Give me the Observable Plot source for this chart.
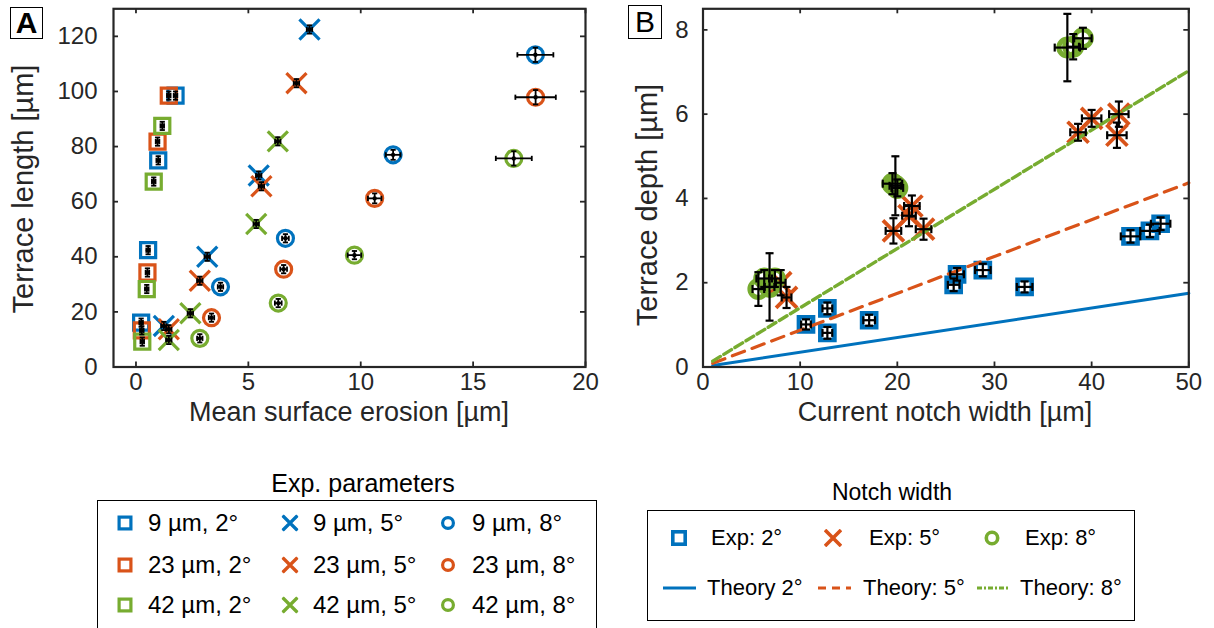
<!DOCTYPE html>
<html><head><meta charset="utf-8">
<script src="https://cdn.jsdelivr.net/npm/d3@7"></script>
<script src="https://cdn.jsdelivr.net/npm/@observablehq/plot@0.6"></script>
<style>
body{margin:0;background:#fff;font-family:"Liberation Sans",Arial,sans-serif;color:#000;}
#wrap{position:relative;width:1214px;height:628px;overflow:hidden;background:#fff;}
.abs{position:absolute;white-space:pre;line-height:1;}
.panel{position:absolute;top:0;}
.box{position:absolute;border:1.5px solid #000;box-sizing:border-box;}
.ctr{transform:translate(-50%,-50%);}
.lbl{transform:translate(0,-50%);}
</style></head><body><div id="wrap"></div>
<script>
// ---------- colours / style ----------
const C_BLUE = "#0072BD", C_ORANGE = "#D95319", C_GREEN = "#77AC30";
const AX = "#262626";
const FONT = '"Liberation Sans", Arial, sans-serif';

// ---------- Panel A data ----------
const aAngle = [2,2,2,2,2,2,2,2,2,2,2,2, 5,5,5,5,5,5,5,5,5,5,5,5, 8,8,8,8,8,8,8,8,8,8,8,8];
const aWidth = [9,9,9,9,23,23,23,23,42,42,42,42, 9,9,9,9,23,23,23,23,42,42,42,42, 9,9,9,9,23,23,23,23,42,42,42,42];
const aX = [1.76,0.99,0.54,0.23, 1.46,0.96,0.51,0.26, 1.17,0.79,0.48,0.28,
            7.72,5.46,3.17,1.24, 7.14,5.58,2.84,1.46, 6.31,5.35,2.42,1.46,
            17.77,11.44,6.65,3.76, 17.78,10.62,6.57,3.36, 16.81,9.72,6.33,2.84];
const aY = [98.5,75.0,42.4,16.1, 98.5,81.8,34.3,13.3, 87.5,67.3,28.3,9.2,
            122.5,69.5,40.0,14.9, 103.0,65.6,31.3,13.7, 81.9,51.9,19.5,9.8,
            113.3,77.0,46.7,29.1, 97.9,61.2,35.5,17.9, 75.7,40.6,23.2,10.4];
const aXerr = [0.08,0.08,0.08,0.08, 0.08,0.08,0.08,0.08, 0.08,0.08,0.08,0.08,
               0.12,0.12,0.12,0.12, 0.12,0.12,0.12,0.12, 0.12,0.12,0.12,0.12,
               0.8,0.33,0.15,0.12, 0.9,0.3,0.15,0.12, 0.8,0.3,0.15,0.12];
const aYerr = [1.5,1.5,1.5,1.5, 1.5,1.5,1.5,1.5, 1.5,1.5,1.5,1.5,
               1.5,1.5,1.5,1.5, 1.5,1.5,1.5,1.5, 1.5,1.5,1.5,1.5,
               2.6,1.8,1.5,1.5, 2.6,1.8,1.5,1.5, 2.6,1.5,1.5,1.5];
const aXTicks = [0,5,10,15,20];
const aYTicks = [0,20,40,60,80,100,120];

// ---------- Panel B data ----------
const bAngle = [2,2,2,2,2,2,2,2,2,2,2, 5,5,5,5,5,5,5,5,5,5, 8,8,8,8,8,8,8,8,8,8];
const bX = [10.6,12.8,12.8,17.1,25.8,26.15,28.8,33.1,44.0,46.0,47.1,
            8.0,8.6,19.6,21.2,21.5,22.7,38.6,40.0,42.8,42.6,
            5.7,6.3,6.85,7.4,19.5,19.8,20.0,37.5,38.1,39.1];
const bY = [1.01,1.39,0.81,1.11,1.95,2.2,2.3,1.9,3.1,3.23,3.4,
            2.0,1.65,3.23,3.59,3.82,3.27,5.57,5.9,6.0,5.5,
            1.85,2.1,1.9,2.1,4.35,4.3,4.25,7.58,7.6,7.8];
const bXerr = [0.5,0.5,0.5,0.6,0.6,0.7,0.8,0.8,1.0,1.0,1.0,
               0.5,0.5,0.8,0.7,0.8,0.8,0.8,1.0,1.0,1.0,
               0.6,0.8,0.5,0.6,1.0,0.6,0.6,1.3,0.6,0.9];
const bYerr = [0.12,0.14,0.14,0.13,0.15,0.15,0.15,0.13,0.15,0.15,0.15,
               0.3,0.25,0.3,0.25,0.25,0.25,0.2,0.2,0.3,0.3,
               0.4,0.2,0.8,0.2,0.25,0.7,0.2,0.8,0.3,0.25];
const bXTicks = [0,10,20,30,40,50];
const bYTicks = [0,2,4,6,8];
// theory lines (end points)
const theoryX = [1, 50];
const theory2 = [0.035, 1.75];
const theory5 = [0.0875, 4.37];
const theory8 = [0.14, 7.03];

// ---------- helpers ----------
const colorOfWidth = {9: C_BLUE, 23: C_ORANGE, 42: C_GREEN};
const colorOfAngle = {2: C_BLUE, 5: C_ORANGE, 8: C_GREEN};
const hCap = {draw(ctx, size){const r = Math.sqrt(size/Math.PI); ctx.moveTo(-r,0); ctx.lineTo(r,0);}};
const vCap = {draw(ctx, size){const r = Math.sqrt(size/Math.PI); ctx.moveTo(0,-r); ctx.lineTo(0,r);}};

function errorBars(data, capR, sw){
  const o = {stroke:"black", strokeWidth: sw};
  return [
    Plot.ruleX(data, {x:"x", y1:d=>d.y-d.ye, y2:d=>d.y+d.ye, ...o}),
    Plot.ruleY(data, {y:"y", x1:d=>d.x-d.xe, x2:d=>d.x+d.xe, ...o}),
    Plot.dot(data, {x:"x", y:d=>d.y-d.ye, symbol:hCap, r:capR, fill:"none", ...o}),
    Plot.dot(data, {x:"x", y:d=>d.y+d.ye, symbol:hCap, r:capR, fill:"none", ...o}),
    Plot.dot(data, {x:d=>d.x-d.xe, y:"y", symbol:vCap, r:capR, fill:"none", ...o}),
    Plot.dot(data, {x:d=>d.x+d.xe, y:"y", symbol:vCap, r:capR, fill:"none", ...o})
  ];
}
function frameTicks(xt, yt, innerW, innerH, len){
  const o = {stroke: AX, strokeWidth: 1.8};
  return [
    Plot.ruleX(xt, {x:d=>d, insetTop: innerH-len, ...o}),
    Plot.ruleX(xt, {x:d=>d, insetBottom: innerH-len, ...o}),
    Plot.ruleY(yt, {y:d=>d, insetRight: innerW-len, ...o}),
    Plot.ruleY(yt, {y:d=>d, insetLeft: innerW-len, ...o})
  ];
}

const wrap = document.getElementById("wrap");
function addDiv(html, cls, css){
  const d = document.createElement("div");
  d.className = cls; d.innerHTML = html;
  Object.assign(d.style, css);
  wrap.appendChild(d);
  return d;
}

// ---------- Panel A ----------
const aData = aX.map((x,i)=>({x, y:aY[i], xe:aXerr[i], ye:aYerr[i], w:aWidth[i], ang:aAngle[i]}));
{
  const W = 600, H = 420, mL = 113, mR = 15, mT = 8.3, mB = 53.5;
  const innerW = W-mL-mR, innerH = H-mT-mB;
  const symFor = {2:"square", 5:"times", 8:"circle"};
  const rFor = {2:8.5, 5:9.2, 8:8};
  const dotMarks = [2,5,8].map(a => Plot.dot(aData.filter(d=>d.ang===a), {
    x:"x", y:"y", symbol: symFor[a], r: rFor[a], fill:"none",
    stroke: d=>colorOfWidth[d.w], strokeWidth: 3.2
  }));
  const chart = Plot.plot({
    width: W, height: H, marginLeft: mL, marginRight: mR, marginTop: mT, marginBottom: mB,
    style: {fontFamily: FONT, color: AX, background: "white", overflow: "visible"},
    x: {domain: [-1, 20]},
    y: {domain: [0, 130]},
    marks: [
      ...dotMarks,
      Plot.dot(aData, {x:"x", y:"y", r:2.2, fill:"black", stroke:"none"}),
      ...errorBars(aData, 2.6, 1.8),
      ...frameTicks(aXTicks, aYTicks, innerW, innerH, 5),
      Plot.frame({stroke: AX, strokeWidth: 2.2}),
      Plot.axisX(aXTicks, {anchor:"bottom", tickSize:0, tickPadding:6, fontSize:24, label:null}),
      Plot.axisY(aYTicks, {anchor:"left", tickSize:0, tickPadding:16, fontSize:24, label:null})
    ]
  });
  const p = document.createElement("div"); p.className = "panel"; p.style.left = "0px";
  p.appendChild(chart); wrap.appendChild(p);
}

// ---------- Panel B ----------
const bData = bX.map((x,i)=>({x, y:bY[i], xe:bXerr[i], ye:bYerr[i], ang:bAngle[i]}));
{
  const W = 614, H = 420, mL = 102.5, mR = 25.7, mT = 8.3, mB = 53.5;
  const innerW = W-mL-mR, innerH = H-mT-mB;
  const th = theoryX.map((x,i)=>({x, y2:theory2[i], y5:theory5[i], y8:theory8[i]}));
  const chart = Plot.plot({
    width: W, height: H, marginLeft: mL, marginRight: mR, marginTop: mT, marginBottom: mB,
    style: {fontFamily: FONT, color: AX, background: "white", overflow: "visible"},
    x: {domain: [0, 50]},
    y: {domain: [0, 8.5]},
    marks: [
      Plot.dot(bData.filter(d=>d.ang===2), {x:"x", y:"y", symbol:"square", r:8, fill:"none", stroke:C_BLUE, strokeWidth:4.5}),
      Plot.dot(bData.filter(d=>d.ang===5), {x:"x", y:"y", symbol:"times", r:9.6, fill:"none", stroke:C_ORANGE, strokeWidth:3.8}),
      Plot.dot(bData.filter(d=>d.ang===8), {x:"x", y:"y", symbol:"circle", r:8.5, fill:"none", stroke:C_GREEN, strokeWidth:5}),
      Plot.line(th, {x:"x", y:"y2", stroke:C_BLUE, strokeWidth:3}),
      Plot.line(th, {x:"x", y:"y5", stroke:C_ORANGE, strokeWidth:3.2, strokeDasharray:"13,8"}),
      Plot.line(th, {x:"x", y:"y8", stroke:C_GREEN, strokeWidth:3.4, strokeDasharray:"9,4"}),
      ...errorBars(bData, 4, 2.2),
      ...frameTicks(bXTicks, bYTicks, innerW, innerH, 5),
      Plot.frame({stroke: AX, strokeWidth: 2.2}),
      Plot.axisX(bXTicks, {anchor:"bottom", tickSize:0, tickPadding:6, fontSize:24, label:null}),
      Plot.axisY(bYTicks, {anchor:"left", tickSize:0, tickPadding:14.5, fontSize:24, label:null})
    ]
  });
  const p = document.createElement("div"); p.className = "panel"; p.style.left = "600px";
  p.appendChild(chart); wrap.appendChild(p);
}

// ---------- axis titles & panel letters ----------
addDiv("Terrace length [µm]", "abs ctr", {left:"23px", top:"189px", fontSize:"29px", color:AX, transform:"translate(-50%,-50%) rotate(-90deg)"});
addDiv("Terrace depth [µm]", "abs ctr", {left:"647px", top:"205px", fontSize:"29px", color:AX, transform:"translate(-50%,-50%) rotate(-90deg)"});
addDiv("Mean surface erosion [µm]", "abs ctr", {left:"349px", top:"412px", fontSize:"27px", color:AX});
addDiv("Current notch width [µm]", "abs ctr", {left:"945px", top:"412px", fontSize:"27px", color:AX});

addDiv("A", "box", {left:"10px", top:"7px", width:"33px", height:"32px", fontSize:"30px", fontWeight:"bold", textAlign:"center", lineHeight:"30px"});
addDiv("B", "box", {left:"628px", top:"5px", width:"34px", height:"34px", fontSize:"30px", textAlign:"center", lineHeight:"32px"});

// ---------- legend helpers ----------
function symSVG(kind, color, size, sw){
  const s = size, h = s/2;
  let inner = "";
  if (kind === "square") inner = `<rect x="${sw/2+1}" y="${sw/2+1}" width="${s-sw-2}" height="${s-sw-2}" fill="none" stroke="${color}" stroke-width="${sw}"/>`;
  else if (kind === "times") inner = `<path d="M1,1L${s-1},${s-1}M${s-1},1L1,${s-1}" stroke="${color}" stroke-width="${sw}" fill="none"/>`;
  else inner = `<circle cx="${h}" cy="${h}" r="${h-sw/2-1.5}" fill="none" stroke="${color}" stroke-width="${sw}"/>`;
  return `<svg width="${s}" height="${s}" style="display:block">${inner}</svg>`;
}
function lineSVG(color, dash, len){
  return `<svg width="${len}" height="6" style="display:block"><line x1="0" y1="3" x2="${len}" y2="3" stroke="${color}" stroke-width="3" ${dash?`stroke-dasharray="${dash}"`:""}/></svg>`;
}

// ---------- Legend A ----------
const legAWidths = [9, 23, 42];
const legAAngles = [2, 5, 8];
const legAKinds = {2:"square", 5:"times", 8:"circle"};
addDiv("Exp. parameters", "abs ctr", {left:"363px", top:"483px", fontSize:"25px"});
addDiv("", "box", {left:"97px", top:"500px", width:"500px", height:"150px", border:"1.5px solid #000"});
const colX = [125, 290, 448], txtX = [148, 313, 472], rowY = [523, 565, 605];
legAWidths.forEach((w, r) => {
  legAAngles.forEach((a, c) => {
    addDiv(symSVG(legAKinds[a], colorOfWidth[w], 17, 3.2), "abs ctr", {left: colX[c]+"px", top: rowY[r]+"px"});
    addDiv(`${w} µm, ${a}°`, "abs lbl", {left: txtX[c]+"px", top: rowY[r]+"px", fontSize:"24px"});
  });
});

// ---------- Legend B ----------
addDiv("Notch width", "abs ctr", {left:"892px", top:"492px", fontSize:"23px"});
addDiv("", "box", {left:"647px", top:"510px", width:"488px", height:"111px"});
const legBAngles = [2, 5, 8];
const mkX = [679, 833, 992], mkTxt = [711, 869, 1025];
legBAngles.forEach((a, i) => {
  addDiv(symSVG(legAKinds[a], colorOfAngle[a], 18, 3.6), "abs ctr", {left: mkX[i]+"px", top:"538px"});
  addDiv(`Exp: ${a}°`, "abs lbl", {left: mkTxt[i]+"px", top:"538px", fontSize:"22px"});
});
const lnX = [663, 818, 977], lnLen = [33, 33, 31], lnTxt = [707, 863, 1020];
const lnDash = [null, "8,6", "5,2,2,2"];
const lnLabel = ["Theory 2°", "Theory: 5°", "Theory: 8°"];
legBAngles.forEach((a, i) => {
  addDiv(lineSVG(colorOfAngle[a], lnDash[i], lnLen[i]), "abs lbl", {left: lnX[i]+"px", top:"588px"});
  addDiv(lnLabel[i], "abs lbl", {left: lnTxt[i]+"px", top:"588px", fontSize:"22px"});
});
</script></body></html>
